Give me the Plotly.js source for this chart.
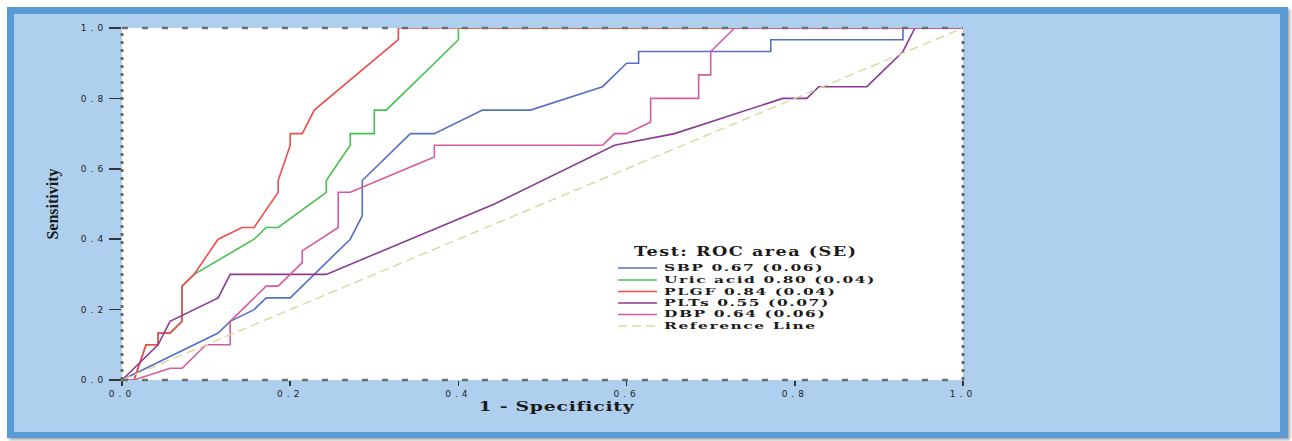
<!DOCTYPE html>
<html>
<head>
<meta charset="utf-8">
<script src="https://cdn.plot.ly/plotly-3.0.1.min.js"></script>
<style>
  html, body { margin:0; padding:0; background:#ffffff; width:1292px; height:441px; overflow:hidden; }
  #frame { position:absolute; left:7px; top:7px; width:1266px; height:418px;
           border:7px solid #5b9bd5; border-right-width:8px; border-bottom-width:6px;
           background:#aed0ee; box-shadow: 2px 2px 3px rgba(0,0,0,0.35); }
  #chart { position:absolute; left:0; top:0; width:1266px; height:418px; }
  .xtick text, .ytick text { letter-spacing:4px; }
  text.xtitle { letter-spacing:0.5px; transform-box: fill-box; transform-origin: center; transform: translate(14px, 0px) scaleX(1.45); }
  text.annotation-text { letter-spacing:1px; transform-box: fill-box; transform-origin: center; transform: scaleX(1.55); }
  g.annotation[data-index="0"] text.annotation-text { transform: scaleX(1.47); }
</style>
</head>
<body>
<div id="frame"><div id="chart"></div></div>
<script>
// 1 - Specificity (x) and Sensitivity (y) for each test
const sbpX  = [0, 0.1143, 0.1286, 0.1571, 0.1714, 0.2, 0.2714, 0.2857, 0.2857, 0.3429, 0.3714, 0.4286, 0.4857, 0.5714, 0.6, 0.6143, 0.6143, 0.7714, 0.7714, 0.9286, 0.9286, 1];
const sbpY  = [0, 0.1333, 0.1667, 0.2, 0.2333, 0.2333, 0.4, 0.4667, 0.5667, 0.7, 0.7, 0.7667, 0.7667, 0.8333, 0.9, 0.9, 0.9333, 0.9333, 0.9667, 0.9667, 1, 1];

const uricX = [0, 0.0143, 0.0286, 0.0429, 0.0429, 0.0571, 0.0714, 0.0714, 0.0857, 0.1571, 0.1714, 0.1857, 0.2429, 0.2429, 0.2714, 0.2714, 0.3, 0.3, 0.3143, 0.4, 0.4, 1];
const uricY = [0, 0, 0.1, 0.1, 0.1333, 0.1333, 0.1667, 0.2667, 0.3, 0.4, 0.4333, 0.4333, 0.5333, 0.5667, 0.6667, 0.7, 0.7, 0.7667, 0.7667, 0.9667, 1, 1];

const plgfX = [0, 0.0143, 0.0286, 0.0429, 0.0429, 0.0571, 0.0714, 0.0714, 0.0857, 0.1143, 0.1429, 0.1571, 0.1857, 0.1857, 0.2, 0.2, 0.2143, 0.2286, 0.3286, 0.3286, 1];
const plgfY = [0, 0, 0.1, 0.1, 0.1333, 0.1333, 0.1667, 0.2667, 0.3, 0.4, 0.4333, 0.4333, 0.5333, 0.5667, 0.6667, 0.7, 0.7, 0.7667, 0.9667, 1, 1];

const pltX  = [0, 0.0429, 0.0571, 0.1143, 0.1286, 0.2429, 0.4429, 0.5857, 0.6571, 0.7857, 0.8143, 0.8286, 0.8857, 0.9286, 0.9429, 1];
const pltY  = [0, 0.1, 0.1667, 0.2333, 0.3, 0.3, 0.5, 0.6667, 0.7, 0.8, 0.8, 0.8333, 0.8333, 0.9333, 1, 1];

const dbpX  = [0, 0.0143, 0.0571, 0.0714, 0.1, 0.1286, 0.1286, 0.1714, 0.1857, 0.2143, 0.2143, 0.2571, 0.2571, 0.2714, 0.3714, 0.3714, 0.5714, 0.5857, 0.6, 0.6286, 0.6286, 0.6857, 0.6857, 0.7, 0.7, 0.7286, 1];
const dbpY  = [0, 0, 0.0333, 0.0333, 0.1, 0.1, 0.1667, 0.2667, 0.2667, 0.3333, 0.3667, 0.4333, 0.5333, 0.5333, 0.6333, 0.6667, 0.6667, 0.7, 0.7, 0.7333, 0.8, 0.8, 0.8667, 0.8667, 0.9333, 1, 1];

const refX  = [0, 1];
const refY  = [0, 1];

const seriesNames = ["SBP 0.67 (0.06)", "Uric acid 0.80 (0.04)", "PLGF 0.84 (0.04)", "PLTs 0.55 (0.07)", "DBP 0.64 (0.06)", "Reference Line"];
const legendTitle = "Test: ROC area (SE)";
const tickVals = [0, 0.2, 0.4, 0.6, 0.8, 1.0];

const colors = ["#5470c6", "#45c14f", "#f24b4b", "#8b3a96", "#d65a9c", "#dcd9a2"];
const xs = [sbpX, uricX, plgfX, pltX, dbpX, refX];
const ys = [sbpY, uricY, plgfY, pltY, dbpY, refY];

const traces = xs.map((x, i) => ({
  x: x, y: ys[i], type: 'scatter', mode: 'lines', name: seriesNames[i],
  showlegend: false, hoverinfo: 'skip',
  line: { color: colors[i], width: i === 5 ? 1.5 : 1.6, dash: i === 5 ? '9px,5px' : 'solid' }
}));

// custom compact legend (paper coordinates)
const legX0 = 0.5898, legX1 = 0.6361, legTextX = 0.6421;
const legYs = [0.318, 0.2841, 0.2514, 0.2188, 0.1861, 0.1534];
const serif = "DejaVu Serif, Liberation Serif, serif";

const annotations = [{
  xref: 'paper', yref: 'paper', x: 0.5993, y: 0.3636, xanchor: 'left', yanchor: 'middle',
  text: legendTitle, showarrow: false,
  font: { family: serif, size: 12, weight: 'bold', color: '#1a1a1a' }
}];
const shapes = [];
seriesNames.forEach((n, i) => {
  annotations.push({
    xref: 'paper', yref: 'paper', x: legTextX, y: legYs[i], xanchor: 'left', yanchor: 'middle',
    text: n, showarrow: false,
    font: { family: serif, size: 10, weight: 'bold', color: '#1a1a1a' }
  });
  shapes.push({
    type: 'line', xref: 'paper', yref: 'paper', x0: legX0, x1: legX1, y0: legYs[i], y1: legYs[i],
    line: { color: colors[i], width: 1.6, dash: i === 5 ? '9px,5px' : 'solid' }
  });
});

// plot frame: dotted verticals, dashed horizontals
shapes.push(
  { type:'line', xref:'paper', yref:'paper', x0:0, x1:0, y0:0, y1:1, layer:'above', line:{ color:'#666', width:3, dash:'3px,5px' } },
  { type:'line', xref:'paper', yref:'paper', x0:1, x1:1, y0:0, y1:1, layer:'above', line:{ color:'#666', width:3, dash:'3px,5px' } },
  { type:'line', xref:'paper', yref:'paper', x0:0, x1:1, y0:1, y1:1, layer:'above', line:{ color:'#6e6e6e', width:2.5, dash:'6px,14px' } },
  { type:'line', xref:'paper', yref:'paper', x0:0, x1:1, y0:0, y1:0, layer:'above', line:{ color:'#6e6e6e', width:2.5, dash:'6px,14px' } }
);

const tickFont = { family: "DejaVu Sans, Arial, sans-serif", size: 9, color: '#222' };

const layout = {
  width: 1266, height: 418,
  margin: { l: 108, r: 317, t: 14, b: 52 },
  paper_bgcolor: 'rgba(0,0,0,0)',
  plot_bgcolor: '#ffffff',
  showlegend: false,
  xaxis: {
    range: [0, 1], tickvals: tickVals, tickformat: '.1f', ticks: 'outside', ticklen: 5, tickwidth: 1.5,
    tickcolor: '#333', showgrid: false, zeroline: false, showline: false, automargin: false,
    tickfont: tickFont, fixedrange: true,
    title: { text: '1 - Specificity', standoff: 4, font: { family: serif, size: 13, weight: 'bold', color: '#1a1a1a' } }
  },
  yaxis: {
    range: [0, 1], tickvals: tickVals, tickformat: '.1f', ticks: 'outside', ticklen: 12, tickwidth: 1.5,
    tickcolor: '#333', showgrid: false, zeroline: false, showline: false, automargin: false,
    tickfont: tickFont, fixedrange: true,
    title: { text: 'Sensitivity', standoff: 18, font: { family: "Liberation Serif, serif", size: 16, weight: 'bold', color: '#1a1a1a' } }
  },
  annotations: annotations,
  shapes: shapes
};

Plotly.newPlot('chart', traces, layout, { displayModeBar: false, staticPlot: true });
</script>
</body>
</html>
